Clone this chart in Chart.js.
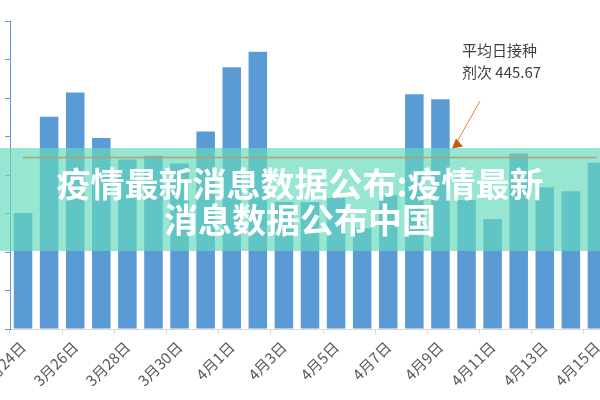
<!DOCTYPE html>
<html>
<head>
<meta charset="utf-8">
<script src="https://cdn.jsdelivr.net/npm/chart.js@4"></script>
<style>
  html, body { margin: 0; padding: 0; background: #fff; overflow: hidden; }
  #wrap { position: relative; width: 600px; height: 400px; overflow: hidden; }
  #chart { position: absolute; left: 0; top: 0; }
  #banner {
    position: absolute; left: 0; top: 165px; width: 600px;
    text-align: center; color: #fff;
    font: bold 34px "Noto Sans CJK SC", sans-serif; line-height: 36px;
  }
  #note {
    position: absolute; left: 462px; top: 39px;
    font: 15px "Noto Sans CJK SC", sans-serif; line-height: 22px; color: #404040;
  }
</style>
</head>
<body>
<div id="wrap">
  <canvas id="chart" width="611" height="400"></canvas>
  <div id="note">平均日接种<br>剂次 445.67</div>
  <div id="banner">疫情最新消息数据公布:疫情最新<br>消息数据公布中国</div>
</div>
<script>
const fechas = [
  "3月24日", "3月25日", "3月26日", "3月27日", "3月28日", "3月29日", "3月30日", "3月31日",
  "4月1日", "4月2日", "4月3日", "4月4日", "4月5日", "4月6日", "4月7日", "4月8日",
  "4月9日", "4月10日", "4月11日", "4月12日", "4月13日", "4月14日", "4月15日",
];
const dosis = [
  301, 551, 614, 496, 440, 450, 430, 513,
  680, 720, 330, 330, 340, 262, 348, 610,
  597, 335, 286, 456, 368, 358, 432,
];
const promedio = 445.67;

const azul = "#5b9bd5";

// franja de color encima de las barras, antes de la línea media
const franja = {
  id: "franja",
  afterDatasetDraw(chart, args) {
    if (args.index !== 1) return;
    const ctx = chart.ctx;
    ctx.save();
    ctx.fillStyle = "rgba(98, 218, 188, 0.67)";
    ctx.fillRect(0, 148, chart.width, 103);
    ctx.restore();
  },
};

const flecha = {
  id: "flecha",
  afterDraw(chart) {
    const ctx = chart.ctx;
    const y = chart.scales.y.getPixelForValue(promedio);
    const x2 = 455, y2 = y - 12;
    ctx.save();
    ctx.strokeStyle = "#ed7d31";
    ctx.lineWidth = 1;
    ctx.beginPath();
    ctx.moveTo(480, 101);
    ctx.lineTo(x2, y2);
    ctx.stroke();
    ctx.fillStyle = "#c55a11";
    ctx.beginPath();
    ctx.moveTo(x2 - 3, y2 + 3);
    ctx.lineTo(x2 + 8, y2 + 1);
    ctx.lineTo(x2 + 1, y2 - 7);
    ctx.closePath();
    ctx.fill();
    ctx.restore();
  },
};

new Chart(document.getElementById("chart"), {
  type: "bar",
  data: {
    labels: fechas,
    datasets: [
      {
        type: "line",
        label: "平均",
        data: fechas.map(() => promedio),
        borderColor: "#b8a06a",
        borderWidth: 1.5,
        pointRadius: 0,
        order: 0,
      },
      {
        label: "接种剂次",
        data: dosis,
        backgroundColor: azul,
        categoryPercentage: 1,
        barPercentage: 0.71,
        order: 1,
      },
    ],
  },
  options: {
    responsive: false,
    animation: false,
    layout: { padding: { left: 0, top: 21, right: 1, bottom: 0 } },
    plugins: {
      legend: { display: false },
      tooltip: { enabled: false },
    },
    scales: {
      x: {
        afterFit(s) {
          s.height = 71;
          s.paddingLeft = 0;
          s.paddingRight = 0;
        },
        border: { color: "#d9d9d9" },
        grid: {
          drawOnChartArea: false,
          tickLength: 5,
          color: (c) => (c.index % 2 === 0 ? "#d9d9d9" : "rgba(0,0,0,0)"),
        },
        ticks: {
          autoSkip: false,
          maxRotation: 45,
          minRotation: 45,
          padding: 4,
          color: "#595959",
          font: { family: "Noto Sans CJK SC", size: 15 },
          callback: (v, i) => (i % 2 === 0 ? fechas[i] : ""),
        },
      },
      y: {
        min: 0,
        max: 800,
        afterFit(s) {
          s.width = 10;
          s.paddingTop = 0;
          s.paddingBottom = 0;
        },
        border: { color: azul },
        grid: { drawOnChartArea: false, tickLength: 5, color: azul },
        ticks: { display: false, stepSize: 100 },
      },
    },
  },
  plugins: [franja, flecha],
});
</script>
</body>
</html>
